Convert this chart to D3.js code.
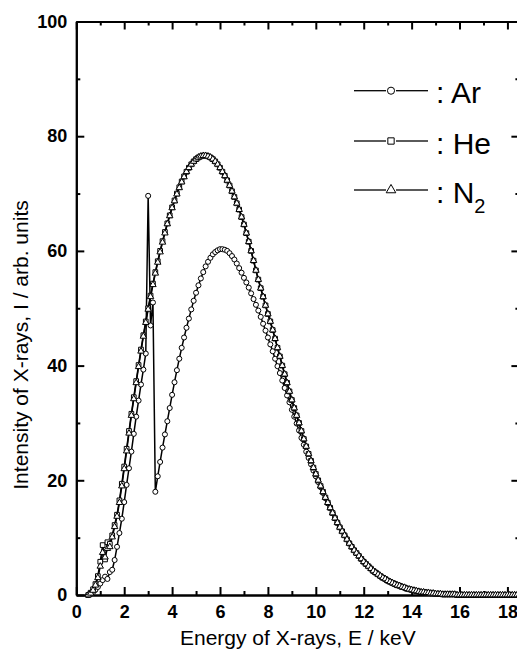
<!DOCTYPE html>
<html>
  <head>
    <meta charset="utf-8">
    <title>X-ray spectra</title>
    <script src="https://cdnjs.cloudflare.com/ajax/libs/d3/7.8.5/d3.min.js"></script>
    <style>
      body { margin: 0; background: #fff; }
      text { font-family: "Liberation Sans", Arial, sans-serif; fill: #000; }
      .axis path, .axis line { stroke: #000; stroke-width: 2; }
      .axis text { font-size: 18px; font-weight: bold; }
      .title { font-size: 21px; }
      .legendText { font-size: 30px; }
    </style>
  </head>
  <body>
    <svg id="chart" width="517" height="650"></svg>
    <script>
      // photon energy, keV
      const energy = [0.5,0.6,0.7,0.8,0.9,1.0,1.1,1.2,1.3,1.4,1.5,1.6,1.7,1.8,1.9,2.0,2.1,2.2,2.3,2.4,
        2.5,2.6,2.7,2.8,2.9,3.0,3.1,3.2,3.3,3.4,3.5,3.6,3.7,3.8,3.9,4.0,4.1,4.2,4.3,4.4,
        4.5,4.6,4.7,4.8,4.9,5.0,5.1,5.2,5.3,5.4,5.5,5.6,5.7,5.8,5.9,6.0,6.1,6.2,6.3,6.4,
        6.5,6.6,6.7,6.8,6.9,7.0,7.1,7.2,7.3,7.4,7.5,7.6,7.7,7.8,7.9,8.0,8.1,8.2,8.3,8.4,
        8.5,8.6,8.7,8.8,8.9,9.0,9.1,9.2,9.3,9.4,9.5,9.6,9.7,9.8,9.9,10.0,10.1,10.2,10.3,10.4,
        10.5,10.6,10.7,10.8,10.9,11.0,11.1,11.2,11.3,11.4,11.5,11.6,11.7,11.8,11.9,12.0,12.1,12.2,12.3,12.4,
        12.5,12.6,12.7,12.8,12.9,13.0,13.1,13.2,13.3,13.4,13.5,13.6,13.7,13.8,13.9,14.0,14.1,14.2,14.3,14.4,
        14.5,14.6,14.7,14.8,14.9,15.0,15.1,15.2,15.3,15.4,15.5,15.6,15.7,15.8,15.9,16.0,16.1,16.2,16.3,16.4,
        16.5,16.6,16.7,16.8,16.9,17.0,17.1,17.2,17.3,17.4,17.5,17.6,17.7,17.8,17.9,18.0,18.1,18.2,18.3,18.4,
        18.5];
      // intensity, arb. units
      const ar = [0,0.2,0.5,0.9,1.4,2.0,2.6,3.2,2.8,4.0,4.4,6.1,8.4,10.8,13.3,16.2,19.2,22.1,25.0,28.1,
        31.1,33.9,36.7,39.3,42.1,69.6,47.0,51.0,18.0,20.7,23.2,25.7,28.0,30.3,32.6,34.9,37.1,39.2,41.2,43.1,
        44.9,46.6,48.2,49.8,51.3,52.7,54.0,55.2,56.3,57.3,58.1,58.8,59.4,59.8,60.1,60.3,60.3,60.2,60.0,59.6,
        59.1,58.5,57.8,57.0,56.2,55.3,54.5,53.6,52.6,51.6,50.6,49.6,48.5,47.3,46.1,44.9,43.7,42.5,41.2,39.9,
        38.7,37.4,36.1,34.8,33.6,32.3,31.1,29.9,28.7,27.4,26.2,25.0,23.9,22.8,21.7,20.7,19.7,18.8,17.8,16.9,
        16.0,15.2,14.3,13.4,12.6,11.8,11.1,10.4,9.7,9.0,8.4,7.8,7.3,6.8,6.3,5.8,5.4,5.0,4.6,4.2,
        3.9,3.6,3.3,3.0,2.8,2.5,2.3,2.1,1.9,1.7,1.6,1.4,1.3,1.1,1.0,0.9,0.8,0.7,0.6,0.5,
        0.5,0.4,0.4,0.3,0.3,0.2,0.2,0.2,0.1,0.1,0.1,0.1,0.1,0.1,0,0,0,0,0,0,
        0,0,0,0,0,0,0,0,0,0,0,0,0,0,0,0,0,0,0,0,
        0];
      const he = [0,0.4,1.0,1.9,3.3,5.8,8.7,6.2,9.2,8.9,10.4,12.2,14.0,16.5,19.4,22.4,25.5,28.6,31.6,34.5,
        37.3,40.1,42.8,45.3,47.7,50.0,52.2,54.3,56.3,58.2,60.0,61.7,63.3,64.8,66.2,67.6,68.8,70.0,71.1,72.1,
        73.0,73.8,74.5,75.1,75.6,76.0,76.3,76.5,76.6,76.6,76.5,76.3,76.0,75.6,75.1,74.5,73.8,73.1,72.3,71.4,
        70.4,69.4,68.3,67.2,65.9,64.6,63.1,61.6,60.0,58.3,56.6,55.0,53.5,52.0,50.5,49.0,47.7,46.2,44.7,43.1,
        41.6,40.0,38.5,37.0,35.5,34.0,32.6,31.3,30.0,28.6,27.2,25.9,24.6,23.4,22.2,21.1,20.0,19.0,18.0,17.0,
        16.1,15.2,14.3,13.4,12.6,11.8,11.1,10.4,9.7,9.0,8.4,7.8,7.3,6.8,6.3,5.8,5.4,5.0,4.6,4.2,
        3.9,3.6,3.3,3.0,2.8,2.5,2.3,2.1,1.9,1.7,1.6,1.4,1.3,1.1,1.0,0.9,0.8,0.7,0.6,0.5,
        0.5,0.4,0.4,0.3,0.3,0.2,0.2,0.2,0.1,0.1,0.1,0.1,0.1,0.1,0,0,0,0,0,0,
        0,0,0,0,0,0,0,0,0,0,0,0,0,0,0,0,0,0,0,0,
        0];
      const n2 = [0,0.3,0.8,1.7,3.0,5.0,7.4,6.6,8.1,8.4,10.1,11.9,13.7,16.1,19.0,22.0,25.1,28.2,31.3,34.2,
        37.0,39.8,42.5,45.1,47.5,49.8,52.0,54.1,56.1,58.0,59.8,61.5,63.1,64.7,66.1,67.5,68.7,69.9,71.0,72.0,
        72.9,73.8,74.5,75.1,75.6,76.0,76.3,76.5,76.6,76.6,76.5,76.3,76.0,75.6,75.1,74.5,73.8,73.1,72.3,71.4,
        70.4,69.4,68.3,67.2,65.9,64.6,63.1,61.6,60.0,58.3,56.6,55.0,53.5,52.0,50.5,49.0,47.7,46.2,44.7,43.1,
        41.6,40.0,38.5,37.0,35.5,34.0,32.6,31.3,30.0,28.6,27.2,25.9,24.6,23.4,22.2,21.1,20.0,19.0,18.0,17.0,
        16.1,15.2,14.3,13.4,12.6,11.8,11.1,10.4,9.7,9.0,8.4,7.8,7.3,6.8,6.3,5.8,5.4,5.0,4.6,4.2,
        3.9,3.6,3.3,3.0,2.8,2.5,2.3,2.1,1.9,1.7,1.6,1.4,1.3,1.1,1.0,0.9,0.8,0.7,0.6,0.5,
        0.5,0.4,0.4,0.3,0.3,0.2,0.2,0.2,0.1,0.1,0.1,0.1,0.1,0.1,0,0,0,0,0,0,
        0,0,0,0,0,0,0,0,0,0,0,0,0,0,0,0,0,0,0,0,
        0];
      const xMajor = [0, 2, 4, 6, 8, 10, 12, 14, 16, 18];
      const xMinor = [1, 3, 5, 7, 9, 11, 13, 15, 17];
      const yMajor = [0, 20, 40, 60, 80, 100];
      const yMinor = [10, 30, 50, 70, 90];
      const series = [
        { name: "Ar", values: ar, symbol: d3.symbolCircle, size: 20 },
        { name: "He", values: he, symbol: d3.symbolSquare, size: 22 },
        { name: "N2", values: n2, symbol: d3.symbolTriangle, size: 18 }
      ];

      const margin = { top: 21.5, right: -2.4, bottom: 55, left: 76.3 };
      const width = 517, height = 650;
      const svg = d3.select("#chart");

      const x = d3.scaleLinear()
        .domain([0, 18.5])
        .range([margin.left, width - margin.right]);
      const y = d3.scaleLinear()
        .domain([0, 100])
        .range([height - margin.bottom, margin.top]);

      // axes, ticks pointing inward
      function addAxis(axis, transform, labels) {
        const g = svg.append("g")
          .attr("class", "axis")
          .attr("transform", transform)
          .call(axis);
        if (!labels) g.selectAll("text").remove();
        return g;
      }
      const y0 = y(0), y1 = y(100), x0 = x(0), x1 = x(18.5);
      addAxis(d3.axisBottom(x).tickValues(xMinor).tickSize(-4).tickSizeOuter(0).tickFormat(""), "translate(0," + y0 + ")", false);
      addAxis(d3.axisBottom(x).tickValues(xMajor).tickSize(-8).tickSizeOuter(0).tickPadding(10).tickFormat(d3.format("d")), "translate(0," + y0 + ")", true);
      addAxis(d3.axisTop(x).tickValues(xMinor).tickSize(-4).tickSizeOuter(0), "translate(0," + y1 + ")", false);
      addAxis(d3.axisTop(x).tickValues(xMajor).tickSize(-8).tickSizeOuter(0), "translate(0," + y1 + ")", false);
      addAxis(d3.axisLeft(y).tickValues(yMinor).tickSize(-4).tickSizeOuter(0).tickFormat(""), "translate(" + x0 + ",0)", false);
      addAxis(d3.axisLeft(y).tickValues(yMajor).tickSize(-8).tickSizeOuter(0).tickPadding(9).tickFormat(d3.format("d")), "translate(" + x0 + ",0)", true);
      addAxis(d3.axisRight(y).tickValues(yMinor).tickSize(-4).tickSizeOuter(0), "translate(" + x1 + ",0)", false);
      addAxis(d3.axisRight(y).tickValues(yMajor).tickSize(-8).tickSizeOuter(0), "translate(" + x1 + ",0)", false);

      // axis titles
      svg.append("text")
        .attr("class", "title")
        .attr("x", (x0 + x1) / 2)
        .attr("y", 645)
        .attr("text-anchor", "middle")
        .text("Energy of X-rays, E / keV");
      svg.append("text")
        .attr("class", "title")
        .attr("transform", "translate(28,345) rotate(-90)")
        .attr("text-anchor", "middle")
        .text("Intensity of X-rays, I / arb. units");

      // curves
      const line = d3.line()
        .x(function(d, i) { return x(energy[i]); })
        .y(function(d) { return y(d); });
      const plot = svg.append("g");
      series.forEach(function(s) {
        plot.append("path")
          .attr("d", line(s.values))
          .attr("fill", "none")
          .attr("stroke", "#000")
          .attr("stroke-width", 1.5);
      });
      series.forEach(function(s) {
        plot.selectAll(".m" + s.name)
          .data(s.values)
          .enter().append("path")
            .attr("class", "m" + s.name)
            .attr("transform", function(d, i) { return "translate(" + x(energy[i]) + "," + y(d) + ")"; })
            .attr("d", d3.symbol().type(s.symbol).size(s.size))
            .attr("fill", "#fff")
            .attr("stroke", "#000")
            .attr("stroke-width", 1);
      });

      // legend
      const legendY = [90.7, 141, 190];
      const legend = svg.append("g");
      series.forEach(function(s, i) {
        const g = legend.append("g").attr("transform", "translate(0," + legendY[i] + ")");
        g.append("line").attr("x1", 354).attr("x2", 386).attr("stroke", "#000").attr("stroke-width", 1.3);
        g.append("line").attr("x1", 396).attr("x2", 428).attr("stroke", "#000").attr("stroke-width", 1.3);
        g.append("path")
          .attr("transform", "translate(391,0)")
          .attr("d", d3.symbol().type(s.symbol).size(40))
          .attr("fill", "#fff")
          .attr("stroke", "#000")
          .attr("stroke-width", 1);
        const t = g.append("text")
          .attr("class", "legendText")
          .attr("x", 436)
          .attr("y", 12.5);
        if (s.name == "N2") {
          t.append("tspan").text(": N");
          t.append("tspan").attr("dy", 10).style("font-size", "20px").text("2");
        } else {
          t.text(": " + s.name);
        }
      });
    </script>
  </body>
</html>
